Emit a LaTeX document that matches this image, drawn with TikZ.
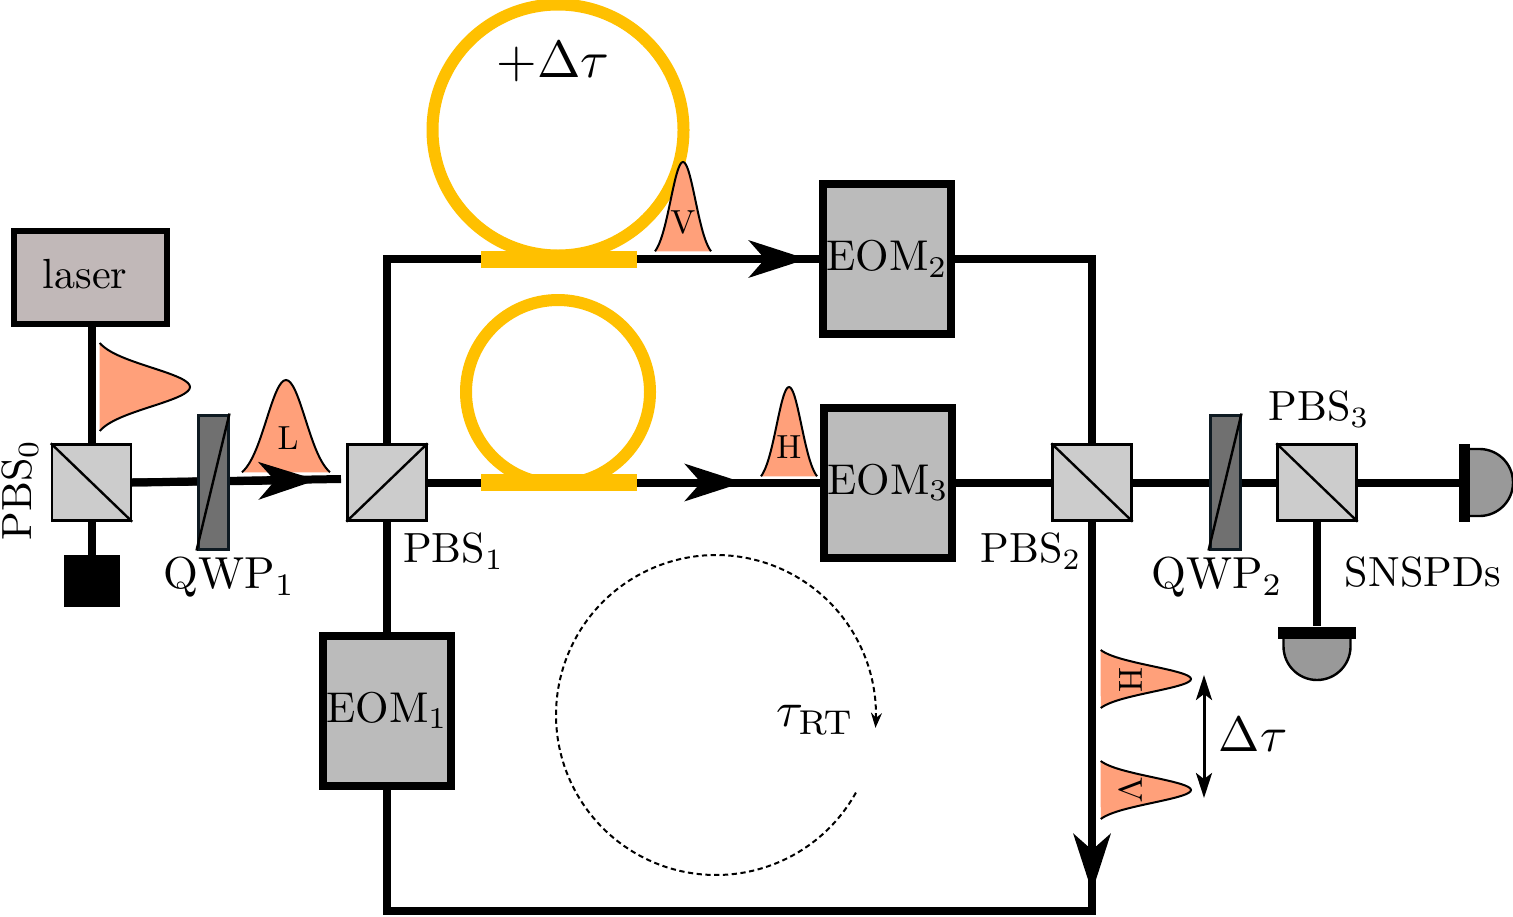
\documentclass[tikz,border=0pt]{standalone}
\usepackage{amsmath}
\usepackage{amssymb}
\usepackage{tikz}
\usetikzlibrary{arrows.meta, positioning, calc}

\definecolor{lasercol}{HTML}{C1B8B8}
\definecolor{eomcol}{HTML}{BBBBBB}
\definecolor{pbscol}{HTML}{CCCCCC}
\definecolor{qwpcol}{HTML}{707070}
\definecolor{qwpline}{HTML}{0E1A22}
\definecolor{fibercol}{HTML}{FFC000}
\definecolor{pulsecol}{HTML}{FFA07A}
\definecolor{detcol}{HTML}{999999}

\def\pxl{0.02cm}
\newcommand{\eomtxt}[1]{\scalebox{2.45}{#1}}

\tikzset{
    beam/.style={line width=8*\pxl},
    tipped/.style={-{Stealth[length=1.16cm, width=0.74cm, inset=0.32cm]}},
    pbs/.style={draw, fill=pbscol, line width=2.4*\pxl, minimum width=79*\pxl, minimum height=76*\pxl, inner sep=0pt},
    eom/.style={draw, fill=eomcol, line width=8*\pxl, minimum width=128*\pxl, minimum height=150*\pxl, inner sep=0pt},
    qwp/.style={draw=qwpline, fill=qwpcol, line width=3*\pxl, minimum width=30*\pxl, minimum height=134*\pxl, inner sep=0pt},
    ring/.style={draw=fibercol, circle, line width=12*\pxl, inner sep=0pt},
    coupler/.style={fill=fibercol, minimum width=156*\pxl, minimum height=17*\pxl, inner sep=0pt},
    bar/.style={fill=black, inner sep=0pt},
    txt/.style={scale=2.4, inner sep=0pt},
    pulsetxt/.style={scale=1.9, inner sep=0pt},
    detector/.style={fill=detcol, line width=2.4*\pxl},
    pics/pulse/.style 2 args={code={
        \draw[line width=2*\pxl, fill=pulsecol] plot[smooth, domain=-1:1, samples=41] ({#1*\x}, {-#2*(exp(-(1.6*\x)^2)-0.07)/0.93});
    }},
}

\begin{document}
\begin{tikzpicture}[x=\pxl, y=-\pxl]
    \useasboundingbox (0,0) rectangle (1513,916);

    % fibre delay rings
    \node[ring, minimum size=251*\pxl] (ringtop) at (558,130) {};
    \node[ring, minimum size=184*\pxl] (ringmid) at (558,392) {};
    \node[txt, scale=2.97/2.4] (delaytxt) at (553,62) {$+\Delta\tau$};

    % pulses
    \pic[rotate=-90] at (99,387) {pulse={44}{91}};
    \pic at (286,473) {pulse={44}{93}};
    \pic at (683,252) {pulse={28}{90}};
    \pic at (789,477) {pulse={28}{90}};
    \pic[rotate=-90] at (1100,679) {pulse={29}{91}};
    \pic[rotate=-90] at (1100,790) {pulse={29}{91}};
    \node[pulsetxt] (pulseL) at (288,438) {L};
    \node[pulsetxt] (pulseV) at (683,222) {V};
    \node[pulsetxt] (pulseH) at (789,447) {H};
    \node[pulsetxt, rotate=-90] (pulseHr) at (1131,680) {H};
    \node[pulsetxt, rotate=-90] (pulseVr) at (1131,790) {V};

    % components
    \node[draw, fill=lasercol, line width=6*\pxl, minimum width=153*\pxl, minimum height=93*\pxl, inner sep=0pt] (laser) at (90,277) {};
    \node[txt] (lasertxt) at (85,274) {laser};
    \node[pbs] (PBS0) at (91.5,482.5) {};
    \node[pbs] (PBS1) at (387,482.5) {};
    \node[pbs] (PBS2) at (1092,482.5) {};
    \node[pbs] (PBS3) at (1317,482.5) {};
    \node[fill=black, minimum width=56*\pxl, minimum height=52*\pxl, inner sep=0pt] (dump) at (91.5,581) {};
    \node[eom] (EOM1) at (387,710.5) {\eomtxt{EOM$_1$}};
    \node[eom] (EOM2) at (887,259) {\eomtxt{EOM$_2$}};
    \node[eom] (EOM3) at (888,482.5) {\eomtxt{EOM$_3$}};

    % points along the beams
    \coordinate (tipL) at (317,480);
    \coordinate (endL) at (341,479);
    \coordinate (tipV) at (807,259);
    \coordinate (tipH) at (743,482.5);
    \coordinate (tipB) at (1092,892);
    \coordinate (cornerB) at (1092,911);

    % beams
    \draw[beam] (PBS0.north |- laser.south) -- (PBS0.north);
    \draw[beam] (PBS0.south) -- (dump.north);
    \draw[beam] (PBS0.east) -- (endL);
    \draw[beam, tipped] (PBS0.east) -- (tipL);
    \draw[beam] (PBS1.north) |- (EOM2.west);
    \draw[beam, tipped] (PBS1.north) |- (tipV);
    \draw[beam] (EOM2.east) -| (PBS2.north);
    \draw[beam] (PBS1.east) -- (EOM3.west);
    \draw[beam, tipped] (PBS1.east) -- (tipH);
    \draw[beam] (EOM3.east) -- (PBS2.west);
    \draw[beam] (PBS1.south) -- (EOM1.north);
    \draw[beam] (PBS2.south) -- (cornerB) -| (EOM1.south);
    \draw[beam, tipped] (PBS2.south) -- (tipB);
    \draw[beam] (PBS2.east) -- (PBS3.west);

    % couplers on top of the loop
    \node[coupler] (couptop) at (559,259.5) {};
    \node[coupler] (coupmid) at (559,482.5) {};

    % beam splitter diagonals
    \draw[line width=2.4*\pxl] (PBS0.north west) -- (PBS0.south east);
    \draw[line width=2.4*\pxl] (PBS1.south west) -- (PBS1.north east);
    \draw[line width=2.4*\pxl] (PBS2.north west) -- (PBS2.south east);
    \draw[line width=2.4*\pxl] (PBS3.north west) -- (PBS3.south east);

    % wave plates
    \node[qwp] (QWP1) at (213,482) {};
    \node[qwp] (QWP2) at (1225,482) {};
    \draw[line width=2.4*\pxl] (QWP1.south west) -- (QWP1.north east);
    \draw[line width=2.4*\pxl] (QWP2.south west) -- (QWP2.north east);

    % detectors
    \draw[detector] (1465,449) -- plot[smooth, domain=-90:90, samples=31] ({1479.5+33.5*cos(\x)}, {482.5+33.5*sin(\x)}) -- (1465,516);
    \draw[detector] (1283.5,633) -- plot[smooth, domain=180:0, samples=31] ({1317+33.5*cos(\x)}, {646.5+33.5*sin(\x)}) -- (1350.5,633);
    \node[bar, minimum width=11*\pxl, minimum height=78*\pxl] (barA) at (1464.5,482.5) {};
    \node[bar, minimum width=78*\pxl, minimum height=12*\pxl] (barB) at (1317,632.5) {};
    \draw[beam] (PBS3.east) -- (barA.west);
    \draw[beam] (PBS3.south) -- (barB.north);

    % labels
    \node[txt, rotate=90] (PBS0txt) at (20,490) {PBS$_0$};
    \node[txt] (PBS1txt) at (453.5,551) {PBS$_1$};
    \node[txt] (PBS2txt) at (1031,551) {PBS$_2$};
    \node[txt] (PBS3txt) at (1319,409) {PBS$_3$};
    \node[txt, scale=2.55/2.4] (QWP1txt) at (229.5,577) {QWP$_1$};
    \node[txt, scale=2.55/2.4] (QWP2txt) at (1217,577) {QWP$_2$};
    \node[txt] (SNSPDtxt) at (1423,572) {SNSPDs};

    % round trip
    \draw[densely dashed, line width=2*\pxl, -{Stealth[length=0.3cm, width=0.22cm]}] plot[smooth, domain=29:364.6, samples=120] ({716+160*cos(\x)}, {715+160*sin(\x)});
    \node[txt, scale=2.8/2.4] (RTtxt) at (815.5,720) {$\tau_{\mathrm{RT}}$};

    % delay between the two pulses
    \coordinate (delayup) at (1204,675);
    \coordinate (delaydown) at (1204,798);
    \draw[line width=3*\pxl, {Stealth[length=0.5cm, width=0.32cm, inset=0.12cm]}-{Stealth[length=0.5cm, width=0.32cm, inset=0.12cm]}] (delayup) -- (delaydown);
    \node[txt, scale=2.82/2.4] (deltatxt) at (1253,735) {$\Delta\tau$};
\end{tikzpicture}
\end{document}
